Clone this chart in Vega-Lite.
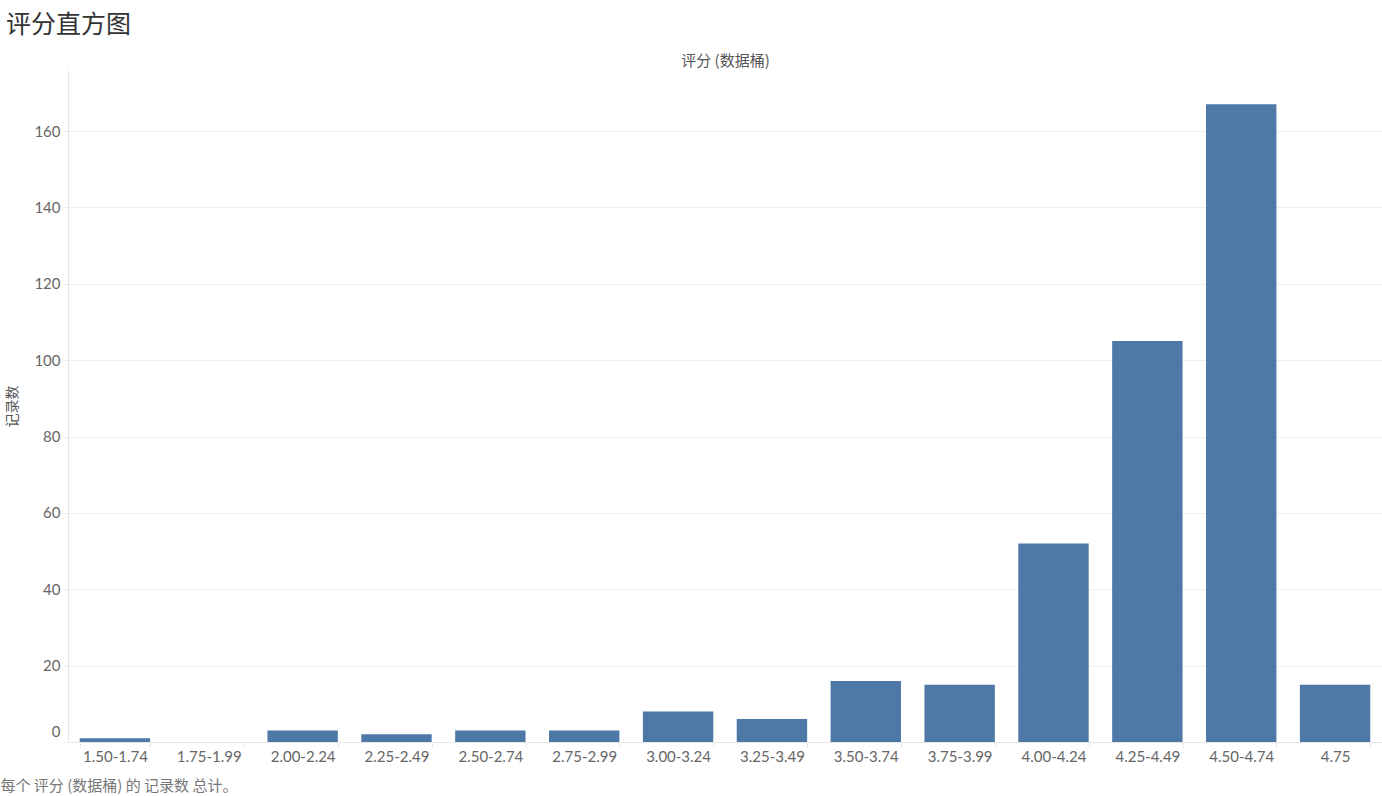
{
  "$schema": "https://vega.github.io/schema/vega-lite/v6.json",
  "width": 1314,
  "height": 672,
  "autosize": {"type": "none"},
  "padding": {"left": 68, "top": 70, "right": 0, "bottom": 54},
  "background": "white",
  "config": {"view": {"stroke": null}},
  "title": {
    "text": "评分直方图",
    "anchor": "start",
    "frame": "group",
    "offset": 15,
    "dx": -62,
    "font": "Noto Sans CJK SC",
    "fontSize": 25,
    "fontWeight": "normal",
    "color": "#333333"
  },
  "data": {
    "values": [
      {"bin": "1.50-1.74", "count": 1},
      {"bin": "1.75-1.99", "count": 0},
      {"bin": "2.00-2.24", "count": 3},
      {"bin": "2.25-2.49", "count": 2},
      {"bin": "2.50-2.74", "count": 3},
      {"bin": "2.75-2.99", "count": 3},
      {"bin": "3.00-3.24", "count": 8},
      {"bin": "3.25-3.49", "count": 6},
      {"bin": "3.50-3.74", "count": 16},
      {"bin": "3.75-3.99", "count": 15},
      {"bin": "4.00-4.24", "count": 52},
      {"bin": "4.25-4.49", "count": 105},
      {"bin": "4.50-4.74", "count": 167},
      {"bin": "4.75", "count": 15}
    ]
  },
  "resolve": {"axis": {"x": "independent"}},
  "layer": [
    {
      "mark": {"type": "bar", "color": "#4e79a7"},
      "encoding": {
        "x": {
          "field": "bin",
          "type": "ordinal",
          "sort": null,
          "scale": {"paddingInner": 0.25, "paddingOuter": 0.125},
          "axis": {
            "orient": "bottom",
            "labelAngle": 0,
            "labelFont": "Lato",
            "labelFontSize": 15,
            "labelColor": "#666666",
            "labelPadding": 2,
            "tickBand": "extent",
            "tickSize": 5,
            "tickColor": "#e6e6e6",
            "domainColor": "#e6e6e6",
            "title": "每个 评分 (数据桶) 的 记录数 总计。",
            "titleFont": "Noto Sans CJK SC",
            "titleFontSize": 15,
            "titleFontWeight": "normal",
            "titleColor": "#777777",
            "titleX": -68,
            "titleY": 43,
            "titleAlign": "left",
            "titleBaseline": "middle"
          }
        },
        "y": {
          "field": "count",
          "type": "quantitative",
          "scale": {"domain": [0, 176], "nice": false},
          "axis": {
            "values": [0, 20, 40, 60, 80, 100, 120, 140, 160],
            "labelFlush": true,
            "labelFlushOffset": -3,
            "labelFont": "Lato",
            "labelFontSize": 15,
            "labelColor": "#666666",
            "labelPadding": 3,
            "tickSize": 5,
            "tickColor": "#eeeeee",
            "domainColor": "#e6e6e6",
            "gridColor": "#efefef",
            "title": "记录数",
            "titleFont": "Noto Sans CJK SC",
            "titleFontSize": 14,
            "titleFontWeight": "normal",
            "titleColor": "#555555",
            "titleX": -56,
            "titleY": 336,
            "titleAlign": "center",
            "titleBaseline": "middle",
            "titleAngle": -90
          }
        }
      }
    },
    {
      "mark": {"type": "bar", "opacity": 0},
      "encoding": {
        "x": {
          "field": "bin",
          "type": "ordinal",
          "sort": null,
          "axis": {
            "orient": "top",
            "labels": false,
            "ticks": false,
            "domain": false,
            "title": "评分 (数据桶)",
            "titleFont": "Noto Sans CJK SC",
            "titleFontSize": 15,
            "titleFontWeight": "normal",
            "titleColor": "#555555",
            "titleY": -10,
            "titleBaseline": "middle"
          }
        },
        "y": {"field": "count", "type": "quantitative"}
      }
    }
  ]
}
